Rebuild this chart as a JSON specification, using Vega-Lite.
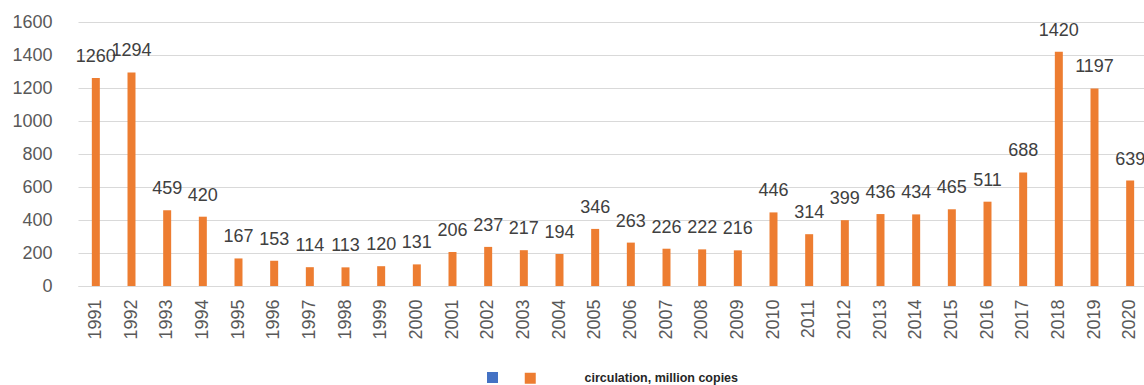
{
  "$schema": "https://vega.github.io/schema/vega-lite/v6.json",
  "autosize": {"type": "none"},
  "padding": {"left": 72, "top": 22, "right": 0, "bottom": 99},
  "width": 1072,
  "height": 264,
  "background": "white",
  "config": {
    "view": {"stroke": null},
    "font": "Liberation Sans"
  },
  "data": {
    "values": [
      {"year": "1991", "value": 1260, "series": "circulation, million copies"},
      {"year": "1992", "value": 1294, "series": "circulation, million copies"},
      {"year": "1993", "value": 459, "series": "circulation, million copies"},
      {"year": "1994", "value": 420, "series": "circulation, million copies"},
      {"year": "1995", "value": 167, "series": "circulation, million copies"},
      {"year": "1996", "value": 153, "series": "circulation, million copies"},
      {"year": "1997", "value": 114, "series": "circulation, million copies"},
      {"year": "1998", "value": 113, "series": "circulation, million copies"},
      {"year": "1999", "value": 120, "series": "circulation, million copies"},
      {"year": "2000", "value": 131, "series": "circulation, million copies"},
      {"year": "2001", "value": 206, "series": "circulation, million copies"},
      {"year": "2002", "value": 237, "series": "circulation, million copies"},
      {"year": "2003", "value": 217, "series": "circulation, million copies"},
      {"year": "2004", "value": 194, "series": "circulation, million copies"},
      {"year": "2005", "value": 346, "series": "circulation, million copies"},
      {"year": "2006", "value": 263, "series": "circulation, million copies"},
      {"year": "2007", "value": 226, "series": "circulation, million copies"},
      {"year": "2008", "value": 222, "series": "circulation, million copies"},
      {"year": "2009", "value": 216, "series": "circulation, million copies"},
      {"year": "2010", "value": 446, "series": "circulation, million copies"},
      {"year": "2011", "value": 314, "series": "circulation, million copies"},
      {"year": "2012", "value": 399, "series": "circulation, million copies"},
      {"year": "2013", "value": 436, "series": "circulation, million copies"},
      {"year": "2014", "value": 434, "series": "circulation, million copies"},
      {"year": "2015", "value": 465, "series": "circulation, million copies"},
      {"year": "2016", "value": 511, "series": "circulation, million copies"},
      {"year": "2017", "value": 688, "series": "circulation, million copies"},
      {"year": "2018", "value": 1420, "series": "circulation, million copies"},
      {"year": "2019", "value": 1197, "series": "circulation, million copies"},
      {"year": "2020", "value": 639, "series": "circulation, million copies"}
    ]
  },
  "encoding": {
    "x": {
      "field": "year",
      "type": "ordinal",
      "sort": null,
      "scale": {"range": [6, 1076], "paddingInner": 0.776, "paddingOuter": 0.388},
      "axis": {
        "title": null,
        "labelAngle": -90,
        "labelFontSize": 18,
        "labelColor": "#595959",
        "labelPadding": 13,
        "ticks": false,
        "domainColor": "#d9d9d9",
        "domainWidth": 1,
        "grid": false
      }
    },
    "y": {
      "field": "value",
      "type": "quantitative",
      "scale": {"domain": [0, 1600], "nice": false},
      "axis": {
        "title": null,
        "values": [0, 200, 400, 600, 800, 1000, 1200, 1400, 1600],
        "format": "d",
        "labelFontSize": 18,
        "labelColor": "#595959",
        "labelPadding": 20,
        "ticks": false,
        "domain": false,
        "gridColor": "#d9d9d9",
        "gridWidth": 1
      }
    }
  },
  "layer": [
    {
      "mark": {"type": "bar", "opacity": 0},
      "encoding": {
        "color": {
          "datum": "series 1",
          "scale": {"domain": ["series 1"], "range": ["#4472C4"]},
          "legend": {
            "title": null,
            "orient": "none",
            "legendX": 415,
            "legendY": 350,
            "direction": "horizontal",
            "symbolType": "square",
            "symbolSize": 121,
            "symbolStrokeWidth": 0,
            "symbolOpacity": 1,
            "labelExpr": "''",
            "labelOpacity": 0
          }
        }
      }
    },
    {
      "mark": {"type": "bar"},
      "encoding": {
        "color": {
          "field": "series",
          "type": "nominal",
          "scale": {"domain": ["circulation, million copies"], "range": ["#ED7D31"]},
          "legend": {
            "title": null,
            "orient": "none",
            "legendX": 452,
            "legendY": 350,
            "direction": "horizontal",
            "symbolType": "square",
            "symbolSize": 121,
            "symbolStrokeWidth": 0,
            "symbolOpacity": 1,
            "labelFontSize": 12.5,
            "labelFontWeight": "bold",
            "labelColor": "#262626",
            "labelOffset": 48
          }
        }
      }
    },
    {
      "mark": {"type": "text", "fontSize": 18, "color": "#404040", "baseline": "alphabetic", "dy": -16},
      "encoding": {"text": {"field": "value", "type": "quantitative"}}
    }
  ],
  "resolve": {"scale": {"color": "independent"}, "legend": {"color": "independent"}}
}
